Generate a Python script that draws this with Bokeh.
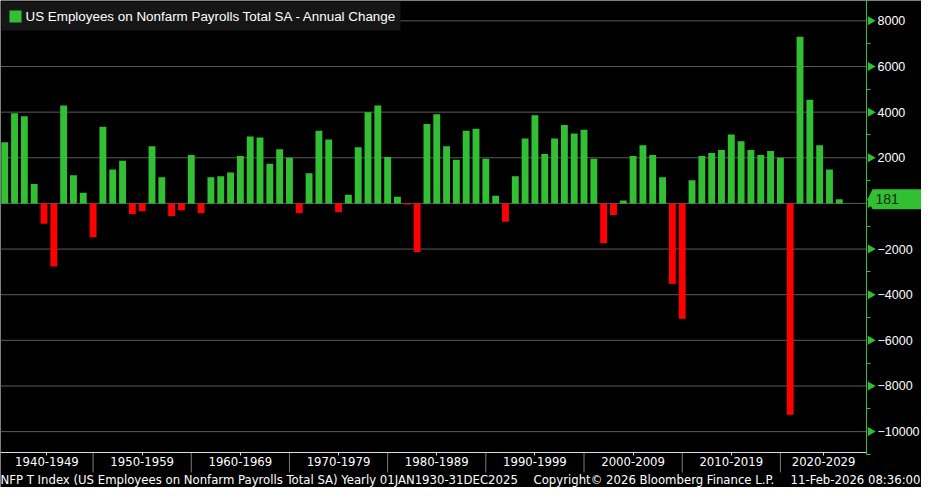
import math
from bokeh.plotting import figure
from bokeh.models import (ColumnDataSource, FixedTicker, Label, BoxAnnotation,
                          PolyAnnotation, Range1d)
from bokeh.embed import file_html
from bokeh.resources import INLINE

# ---------------- data ----------------
years = list(range(1940, 2026))
changes = [
    2676, 3950, 3823, 850, -892, -2761, 4290, 1232, 467, -1487,      # 1940s
    3356, 1487, 1869, -467, -340, 2506, 1147, -552, -297, 2124,      # 1950s
    -425, 1147, 1189, 1359, 2082, 2931, 2889, 1742, 2379, 1997,      # 1960s
    -425, 1317, 3186, 2804, -382, 382, 2464, 3993, 4290, 2039,       # 1970s
    297, -45, -2124, 3483, 3908, 2506, 1912, 3186, 3271, 1954,       # 1980s
    340, -807, 1189, 2846, 3866, 2166, 2846, 3441, 3059, 3228,       # 1990s
    1954, -1742, -510, 127, 2082, 2549, 2124, 1147, -3526, -5055,    # 2000s
    1020, 2082, 2209, 2336, 3016, 2719, 2336, 2124, 2294, 1997,      # 2010s
    -9261, 7307, 4545, 2549, 1487, 181,                              # 2020s
]
y_ticks = [-10000, -8000, -6000, -4000, -2000, 0, 2000, 4000, 6000, 8000]
y_minor = [-11000, -9000, -7000, -5000, -3000, -1000, 1000, 3000, 5000, 7000]
decade_labels = ["1940-1949", "1950-1959", "1960-1969", "1970-1979", "1980-1989",
                 "1990-1999", "2000-2009", "2010-2019", "2020-2029"]
decade_label_pos = [1945.3, 1955, 1965, 1975, 1985, 1995, 2005, 2015, 2024.4]
decade_bounds = [1950, 1960, 1970, 1980, 1990, 2000, 2010, 2020]
last_value = 181
legend_text = "US Employees on Nonfarm Payrolls Total SA - Annual Change"
footer_left = "NFP T Index (US Employees on Nonfarm Payrolls Total SA) Yearly 01JAN1930-31DEC2025"
footer_mid = "Copyright\u00a9 2026 Bloomberg Finance L.P."
footer_right = "11-Feb-2026 08:36:00"

# ---------------- geometry / style ----------------
GREEN = "#33bf33"
RED = "#ff0000"
GRID = "#5c5c5c"
W, H = 921, 487
AXIS_PX_X = 866          # pixel column of the value axis
AXIS_PX_Y = 452          # pixel row of the category axis
X0, X_AXIS = 1940.57, 2028.77
Y_TOP, Y_AXIS = 8892, -10915
XPP = (X_AXIS - X0) / AXIS_PX_X          # data units per pixel (x)
YPP = (Y_TOP - Y_AXIS) / AXIS_PX_Y       # data units per pixel (y)
XR = X0 + W * XPP
YB = Y_TOP - H * YPP

xpos = [y + 1 for y in years]          # yearly points dated 31 Dec
colors = [GREEN if v >= 0 else RED for v in changes]
src = ColumnDataSource(dict(x=xpos, top=changes, color=colors))

p = figure(width=W, height=H, output_backend="svg", toolbar_location=None,
           x_range=Range1d(X0, XR), y_range=Range1d(YB, Y_TOP),
           y_axis_location="right",
           background_fill_color="black", border_fill_color="black",
           outline_line_color=None, min_border=0)
p.xgrid.visible = False
p.ygrid.visible = False

# horizontal grid lines (stop at the value axis)
p.segment(x0=[X0] * len(y_ticks), x1=[X_AXIS] * len(y_ticks), y0=y_ticks, y1=y_ticks,
          line_color=GRID, line_width=1)

bars = p.vbar(x="x", top="top", bottom=0, width=0.7, fill_color="color",
              line_color=None, source=src)

# decade separators below the axis
p.segment(x0=decade_bounds, x1=decade_bounds, y0=[Y_AXIS] * len(decade_bounds),
          y1=[Y_AXIS - 20 * YPP] * len(decade_bounds), line_color="#7a7a7a", line_width=1)

# right value axis
ya = p.yaxis[0]
ya.fixed_location = X_AXIS
ya.bounds = (Y_AXIS - 2 * YPP, Y_TOP)
ya.ticker = FixedTicker(ticks=y_ticks, minor_ticks=y_minor)
ya.axis_line_color = GREEN
ya.major_tick_in = 0
ya.major_tick_out = 8
ya.major_tick_line_color = None
ya.minor_tick_in = 0
ya.minor_tick_out = 4
ya.minor_tick_line_color = GREEN
ya.major_label_text_color = "white"
ya.major_label_text_font = "Liberation Sans"
ya.major_label_text_font_size = "12.5px"
ya.major_label_standoff = 3
ya.major_label_overrides = {0: ""}

# triangles on the major ticks
p.scatter(x=[X_AXIS + 4 * XPP] * len(y_ticks), y=y_ticks, marker="triangle",
          angle=-math.pi / 2, size=9, fill_color=GREEN, line_color=None)

# bottom category axis
xa = p.xaxis[0]
xa.fixed_location = Y_AXIS
xa.bounds = (X0, X_AXIS)
xa.ticker = FixedTicker(ticks=decade_label_pos)
xa.major_label_overrides = {pos: lab for pos, lab in zip(decade_label_pos, decade_labels)}
xa.axis_line_color = "#dcdcdc"
xa.major_tick_in = 0
xa.major_tick_out = 3
xa.major_tick_line_color = "#dcdcdc"
xa.minor_tick_line_color = None
xa.major_label_text_color = "white"
xa.major_label_text_font = "DejaVu Sans Condensed"
xa.major_label_text_font_size = "13px"
xa.major_label_standoff = 1

# last value marker
p.add_layout(PolyAnnotation(
    xs=[X_AXIS + 1 * XPP, X_AXIS + 6 * XPP, XR + 5 * XPP, XR + 5 * XPP, X_AXIS + 6 * XPP],
    ys=[last_value, last_value + 10 * YPP, last_value + 10 * YPP,
        last_value - 10 * YPP, last_value - 10 * YPP],
    fill_color=GREEN, fill_alpha=1, line_color=None))
p.add_layout(Label(x=X_AXIS + 9 * XPP, y=last_value, text=str(last_value),
                   text_baseline="middle", text_align="left", text_color="#0e2e0e",
                   text_font="Liberation Sans", text_font_size="14px"))

# legend box (drawn by hand so its size matches the terminal style)
p.add_layout(BoxAnnotation(left=X0 + 1 * XPP, right=X0 + 400 * XPP,
                           top=Y_TOP - 1 * YPP, bottom=Y_TOP - 30 * YPP,
                           fill_color="#161616", fill_alpha=1, line_color=None))
p.add_layout(BoxAnnotation(left=X0 + 9 * XPP, right=X0 + 21 * XPP,
                           top=Y_TOP - 10 * YPP, bottom=Y_TOP - 22 * YPP,
                           fill_color=GREEN, fill_alpha=1, line_color=None))
p.add_layout(Label(x=X0 + 25 * XPP, y=Y_TOP - 16 * YPP, text=legend_text,
                   text_baseline="middle", text_align="left", text_color="white",
                   text_font="Liberation Sans", text_font_size="13.4px"))

# footer
for txt, xx, al in [(footer_left, 0, "left"), (footer_mid, 533, "left"), (footer_right, 920, "right")]:
    p.add_layout(Label(x=xx, y=8, x_units="screen", y_units="screen", text=txt,
                       text_align=al, text_baseline="middle", text_color="white",
                       text_font="DejaVu Sans Condensed", text_font_size="13px"))

open("out.html", "w").write(file_html(p, INLINE))
